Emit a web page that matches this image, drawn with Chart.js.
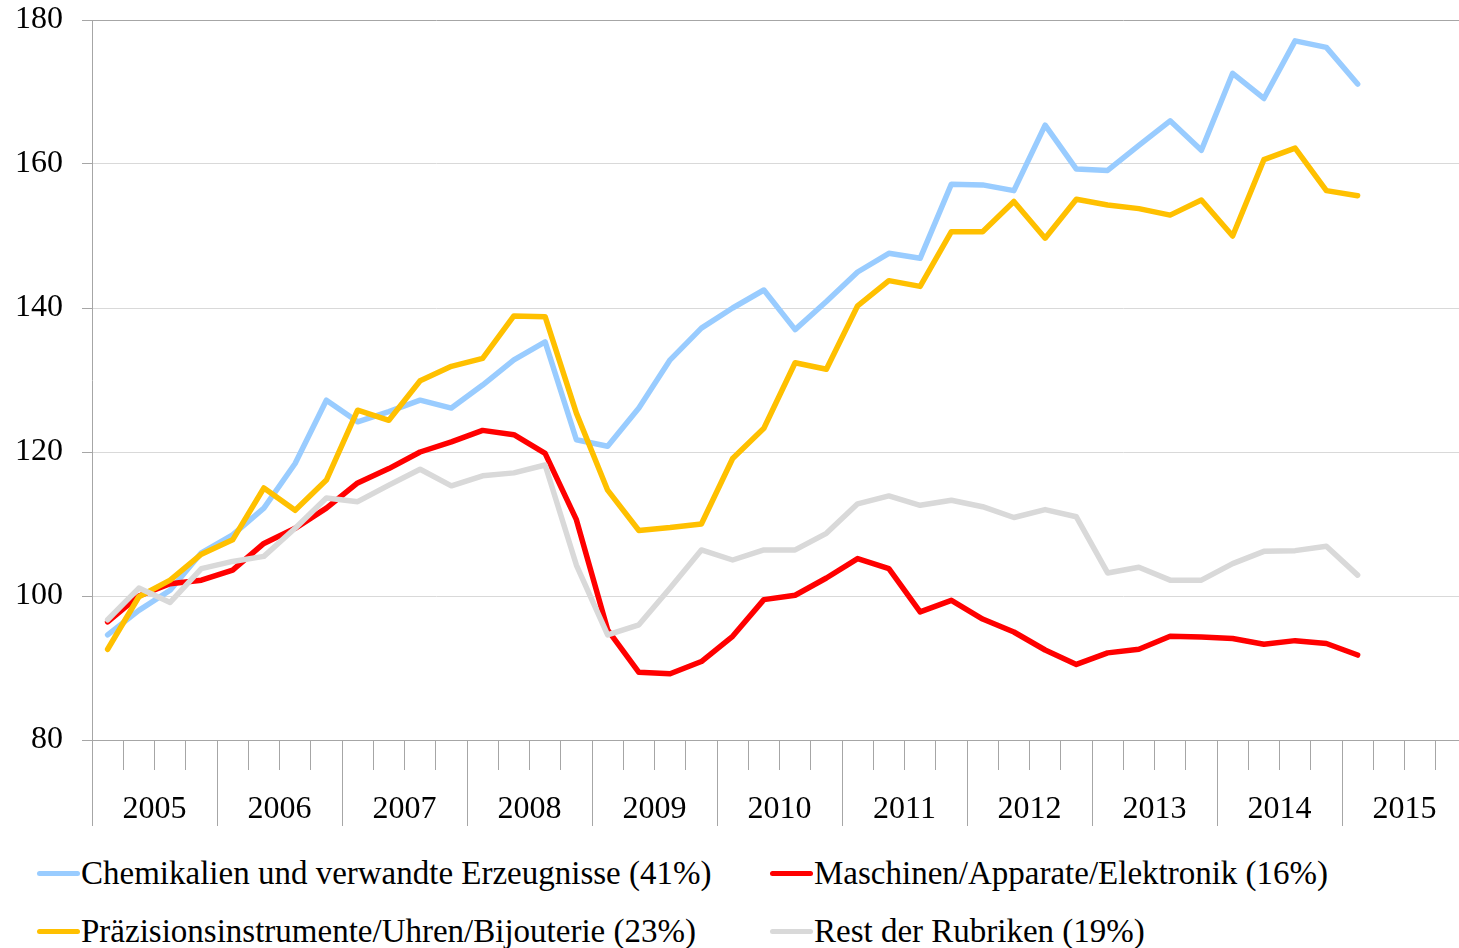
<!DOCTYPE html>
<html lang="de">
<head>
<meta charset="utf-8">
<title>Exporte nach Rubriken</title>
<script src="https://cdn.jsdelivr.net/npm/chart.js@4.4.1/dist/chart.umd.min.js"></script>
<style>
    html, body { margin: 0; padding: 0; background: #fff; overflow: hidden; width: 1459px; height: 948px; }
    #chartBox { position: absolute; left: 0; top: 0; width: 1480px; height: 840px; }
    #legend { position: absolute; left: 0; top: 0; font-family: 'Liberation Serif', 'Times New Roman', serif; font-size: 33px; color: #000; }
    .legendItem { position: absolute; display: flex; align-items: center; height: 40px; line-height: 40px; white-space: nowrap; }
    .legendItem .swatch { display: inline-block; width: 43px; height: 5px; border-radius: 3px; margin-right: 1px; }
</style>
</head>
<body>
<div id="chartBox"><canvas id="exportChart"></canvas></div>
<div id="legend"></div>

<script>
// years on the axis, data runs 2005 Q1 .. 2015 Q1
const years = ['2005', '2006', '2007', '2008', '2009', '2010', '2011', '2012', '2013', '2014', '2015'];
const quarters = years.flatMap(y => ['Q1', 'Q2', 'Q3', 'Q4'].map(q => y + ' ' + q));

const seriesLabels = [
    'Chemikalien und verwandte Erzeugnisse (41%)',
    'Maschinen/Apparate/Elektronik (16%)',
    'Präzisionsinstrumente/Uhren/Bijouterie (23%)',
    'Rest der Rubriken (19%)'
];

const chemie = [94.6, 98.0, 100.8, 106.0, 108.5, 112.2, 118.4, 127.2, 124.2, 125.6,
    127.2, 126.1, 129.3, 132.8, 135.3, 121.7, 120.8, 126.1, 132.8, 137.2,
    140.0, 142.5, 137.0, 140.9, 145.0, 147.6, 146.9, 157.2, 157.1, 156.3,
    165.4, 159.3, 159.1, 162.6, 166.0, 161.9, 172.6, 169.1, 177.1, 176.2,
    171.1];

const maschinen = [96.4, 100.0, 101.7, 102.2, 103.6, 107.3, 109.4, 112.2, 115.7, 117.7,
    120.0, 121.4, 123.0, 122.4, 119.8, 110.6, 95.3, 89.4, 89.2, 90.9,
    94.4, 99.5, 100.1, 102.5, 105.2, 103.8, 97.8, 99.4, 96.8, 95.0,
    92.5, 90.5, 92.1, 92.6, 94.4, 94.3, 94.1, 93.3, 93.8, 93.4,
    91.8];

const praezision = [92.6, 99.9, 102.2, 105.8, 107.8, 115.0, 111.9, 116.1, 125.8, 124.4,
    129.9, 131.9, 133.0, 138.9, 138.8, 125.4, 114.7, 109.1, 109.5, 110.0,
    119.1, 123.3, 132.4, 131.5, 140.3, 143.8, 143.0, 150.6, 150.6, 154.8,
    149.7, 155.1, 154.3, 153.8, 152.9, 155.0, 150.0, 160.6, 162.2, 156.3,
    155.6];

const rest = [96.7, 101.1, 99.1, 103.8, 104.8, 105.5, 109.4, 113.6, 113.1, 115.4,
    117.6, 115.3, 116.7, 117.1, 118.2, 104.3, 94.6, 96.0, 101.1, 106.4,
    105.0, 106.4, 106.4, 108.7, 112.8, 113.9, 112.6, 113.3, 112.4, 110.9,
    112.0, 111.0, 103.2, 104.0, 102.2, 102.2, 104.5, 106.2, 106.3, 106.9,
    102.9];

const yMin = 80;
const yMax = 180;
const yStep = 20;

const axisGrey = '#a6a6a6';
const gridGrey = '#d9d9d9';

Chart.defaults.font.family = "'Liberation Serif', 'Times New Roman', serif";
Chart.defaults.color = '#000';

function lineSet(label, data, color, order)
{
    return {
        label: label,
        data: data,
        borderColor: color,
        backgroundColor: color,
        borderWidth: 5.5,
        borderCapStyle: 'round',
        borderJoinStyle: 'round',
        pointRadius: 0,
        tension: 0,
        fill: false,
        order: order
    };
}

const chartData = {
    labels: quarters,
    datasets: [
        lineSet(seriesLabels[0], chemie, '#99ccff', 4),
        lineSet(seriesLabels[1], maschinen, '#ff0000', 3),
        lineSet(seriesLabels[2], praezision, '#ffc000', 2),
        lineSet(seriesLabels[3], rest, '#d9d9d9', 1)
    ]
};

const config = {
    type: 'line',
    data: chartData,
    options: {
        responsive: true,
        maintainAspectRatio: false,
        animation: false,
        layout: {
            padding: { top: 20, right: 13, left: 0, bottom: 0 }
        },
        plugins: {
            legend: { display: false },
            tooltip: { enabled: false }
        },
        scales: {
            x: {
                type: 'category',
                offset: true,
                border: { display: true, color: axisGrey, width: 1 },
                grid: {
                    offset: true,
                    drawOnChartArea: false,
                    drawTicks: true,
                    tickLength: 86,
                    tickColor: axisGrey,
                    tickWidth: 1,
                    // long tick at year boundary, short one between quarters
                    tickBorderDash: c => (c.index % 4 === 0) ? [] : [29, 200]
                },
                ticks: {
                    autoSkip: false,
                    maxRotation: 0,
                    minRotation: 0,
                    labelOffset: 15.6,
                    padding: -36,
                    font: { size: 32 },
                    callback: (val, i) => (i % 4 === 1) ? years[Math.floor(i / 4)] : ''
                },
                afterFit: s => {
                    s.height = 100;
                    s.paddingLeft = 0;
                    s.paddingRight = 0;
                }
            },
            y: {
                min: yMin,
                max: yMax,
                border: { display: true, color: axisGrey, width: 1 },
                grid: {
                    color: c => (c.tick && c.tick.value === yMax) ? axisGrey : gridGrey,
                    tickColor: axisGrey,
                    tickLength: 10,
                    lineWidth: 1
                },
                ticks: {
                    stepSize: yStep,
                    padding: 19,
                    font: { size: 32 }
                },
                afterFit: s => {
                    s.width = 92;
                    s.paddingTop = 0;
                    s.paddingBottom = 0;
                }
            }
        }
    }
};

const ctx = document.getElementById('exportChart').getContext('2d');
const myChart = new Chart(ctx, config);

// html legend, two columns like the original
function buildLegend(chart)
{
    const spots = [[37, 853], [770, 853], [37, 911], [770, 911]];
    const box = document.getElementById('legend');
    chart.data.datasets.forEach((ds, i) => {
        const item = document.createElement('div');
        item.className = 'legendItem';
        item.style.left = spots[i][0] + 'px';
        item.style.top = spots[i][1] + 'px';

        const sw = document.createElement('span');
        sw.className = 'swatch';
        sw.style.background = ds.borderColor;

        const txt = document.createElement('span');
        txt.textContent = ds.label;

        item.appendChild(sw);
        item.appendChild(txt);
        box.appendChild(item);
    });
}

buildLegend(myChart);
</script>
</body>
</html>
